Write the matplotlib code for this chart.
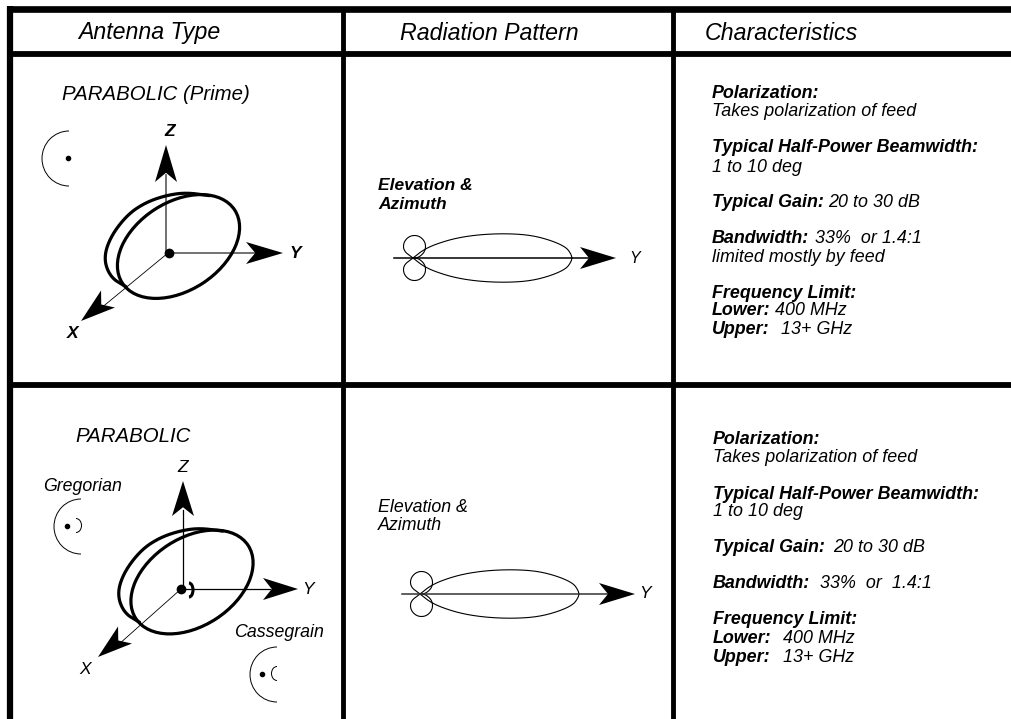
import numpy as np
import matplotlib
matplotlib.use('Agg')
import matplotlib.pyplot as plt
from matplotlib.patches import Ellipse, Arc, Polygon

plt.rcParams['font.family'] = ['Liberation Sans', 'DejaVu Sans']

# Table rules
col_lines = [342.5, 673]
row_lines = [54, 384.5]

# Header text
headers = ['Antenna Type', 'Radiation Pattern', 'Characteristics']
header_x = [78, 400, 705]

# Left column labels
row1_type = 'PARABOLIC (Prime)'
row2_type = 'PARABOLIC'

# Characteristics text: (text, bold, x, baseline y)
row1_chars = [
    ('Polarization:', True, 712, 98),
    ('Takes polarization of feed', False, 712, 116.5),
    ('Typical Half-Power Beamwidth:', True, 712, 152.5),
    ('1 to 10 deg', False, 712, 171.5),
    ('Typical Gain:', True, 712, 207),
    ('20 to 30 dB', False, 828, 207),
    ('Bandwidth:', True, 712, 243),
    ('33%  or 1.4:1', False, 815, 243),
    ('limited mostly by feed', False, 712, 261.5),
    ('Frequency Limit:', True, 712, 298),
    ('Lower:', True, 712, 315),
    ('400 MHz', False, 775, 315),
    ('Upper:', True, 712, 334),
    ('13+ GHz', False, 781, 334),
]
row2_chars = [
    ('Polarization:', True, 713, 444),
    ('Takes polarization of feed', False, 713, 462),
    ('Typical Half-Power Beamwidth:', True, 713, 499),
    ('1 to 10 deg', False, 713, 515.5),
    ('Typical Gain:', True, 713, 552),
    ('20 to 30 dB', False, 833, 552),
    ('Bandwidth:', True, 713, 588),
    ('33%  or  1.4:1', False, 820, 588),
    ('Frequency Limit:', True, 713, 624),
    ('Lower:', True, 713, 643),
    ('400 MHz', False, 783, 643),
    ('Upper:', True, 713, 662),
    ('13+ GHz', False, 783, 662),
]

# Radiation pattern outlines, offset from the lobe crossing (pixels)
main_lobe_dx = [0, 10, 23, 43, 67, 93, 117, 137, 153, 158, 159]
main_lobe_h = [0, 8, 14, 20, 23.5, 24.5, 23, 18, 11, 4, 0]
back_lobe_dx = [0, -9.5, -9.5, -3, 6, 12.5, 12.5, 6, 0]
back_lobe_h = [0, 7, 16, 22.5, 22.5, 16, 7, 0.5, 0]

# Back rim of the dish, offset from the dish centre (pixels)
rim_dx = [-53, -68, -75, -68, -51, -33, -13, 7, 30]
rim_dy = [40, 31, 12, -10, -32, -44, -51, -54, -51]

fig = plt.figure(figsize=(10.11, 7.19), dpi=100)
ax = fig.add_axes([0, 0, 1, 1])
ax.set_xlim(0, 1011)
ax.set_ylim(719, 0)
ax.axis('off')


def smooth(xs, ys, per=25):
    # Quadratic B-spline through the midpoints, ends pinned
    p = np.column_stack([xs, ys]).astype(float)
    p = np.vstack([p[0], p, p[-1]])
    out = []
    for i in range(len(p) - 2):
        a = (p[i] + p[i + 1]) / 2
        b = p[i + 1]
        c = (p[i + 1] + p[i + 2]) / 2
        for t in np.linspace(0, 1, per):
            out.append((1 - t) ** 2 * a + 2 * t * (1 - t) * b + t ** 2 * c)
    return np.array(out)


def arrow_head(tip, base, width=22, notch=0.25):
    # Filled swept-back arrow head pointing at tip
    tip = np.array(tip, float)
    base = np.array(base, float)
    d = tip - base
    n = np.array([-d[1], d[0]]) / np.hypot(*d)
    ax.add_patch(Polygon([tip, base + n * width / 2, base + d * notch, base - n * width / 2],
                         closed=True, fc='black', ec='none', zorder=5))


def dish(cx, cy):
    # Full ellipse for the front rim, read-off curve for the back rim
    ax.add_patch(Ellipse((cx, cy), 134, 88, angle=-33, fc='none', ec='black', lw=2.3, zorder=4))
    r = smooth(rim_dx, rim_dy)
    ax.plot(cx + r[:, 0], cy + r[:, 1], color='black', lw=2.3, zorder=4)


def feed(left, cy, dot_x, sub=None):
    # Small side view of reflector with feed
    ax.add_patch(Arc((left + 27, cy), 54, 55, theta1=90, theta2=270, ec='black', lw=0.7))
    ax.plot(dot_x, cy - 1, 'o', color='black', ms=3)
    if sub is not None:
        sx, t1, t2 = sub
        ax.add_patch(Arc((sx, cy - 1), 11, 14, theta1=t1, theta2=t2, ec='black', lw=0.7))


def lobe(x0, y0):
    # Main beam and back lobes of the radiation pattern
    m = smooth(main_lobe_dx, main_lobe_h)
    b = smooth(back_lobe_dx, back_lobe_h)
    for s in (-1, 1):
        ax.plot(x0 + m[:, 0], y0 + s * m[:, 1], color='black', lw=0.8)
        ax.plot(x0 + b[:, 0], y0 + s * b[:, 1], color='black', lw=0.8)


def label(x, y, s, size=12.9, bold=False, ha='left'):
    ax.text(x, y, s, fontsize=size, style='italic', weight='bold' if bold else 'normal', ha=ha, va='baseline')


# Table frame
ax.plot([10, 10], [719, 6], color='black', lw=4.5, solid_capstyle='butt')
ax.plot([7, 1011], [9, 9], color='black', lw=4.8, solid_capstyle='butt')
for y in row_lines:
    ax.plot([10, 1011], [y, y], color='black', lw=4.2, solid_capstyle='butt')
for x in col_lines:
    ax.plot([x, x], [8, 719], color='black', lw=3.5, solid_capstyle='butt')

# Headers
for t, x in zip(headers, header_x):
    label(x, 39.5, t, 16.7)

# Row 1 left
label(62, 100, row1_type, 14.7)
feed(42, 158.5, 68)
ax.plot([166, 166], [253, 175], color='#666666', lw=1.3, zorder=3)
ax.plot([168, 255], [253, 253], color='#666666', lw=1.3, zorder=3)
ax.plot([168, 100], [253, 309], color='black', lw=0.6, zorder=3)
arrow_head((166, 145), (166, 182))
arrow_head((283, 253), (246, 253))
arrow_head((81, 321), (108, 299))
ax.plot(168.5, 253, 'o', color='black', ms=6, zorder=6)
dish(178.5, 246.5)
label(170, 136, 'Z', 12.5, True, 'center')
label(295, 258, 'Y', 12.5, True, 'center')
label(73, 338, 'X', 12.5, True, 'center')

# Row 2 left
label(75, 442, row2_type, 14.7)
label(183, 472, 'Z', 12.5, False, 'center')
label(83, 491, 'Gregorian', 12.8, False, 'center')
feed(54, 526.5, 67, (76, -90, 90))
ax.plot([183, 183], [589, 510], color='black', lw=0.9, zorder=3)
ax.plot([181, 270], [589, 589], color='black', lw=0.9, zorder=3)
ax.plot([181, 118], [589, 645], color='black', lw=0.6, zorder=3)
arrow_head((183, 481), (183, 516))
arrow_head((298, 589), (263, 589))
arrow_head((98, 657), (125, 635))
ax.plot(181, 589, 'o', color='black', ms=6, zorder=6)
dish(192, 582)
ax.add_patch(Arc((189, 590), 8, 14, theta1=-90, theta2=90, ec='black', lw=2.2, zorder=6))
label(308, 594, 'Y', 12.5, False, 'center')
label(85, 674, 'X', 12.5, False, 'center')
label(279, 637, 'Cassegrain', 12.8, False, 'center')
feed(250, 674.5, 262, (277, 90, 270))

# Row 1 pattern
label(378, 190.5, 'Elevation &', 12.5, True)
label(378, 209, 'Azimuth', 12.5, True)
lobe(413, 258)
ax.plot([394, 590], [258, 258], color='black', lw=1.1)
arrow_head((616, 258), (580, 258))
label(635, 263, 'Y', 11.5, False, 'center')

# Row 2 pattern
label(378, 512, 'Elevation &', 12.8)
label(378, 530.5, 'Azimuth', 12.8)
lobe(420, 594)
ax.plot([402, 610], [594, 594], color='#333333', lw=1.1)
arrow_head((635, 594), (599, 594))
label(645, 598, 'Y', 12.5, False, 'center')

# Characteristics
for rows in (row1_chars, row2_chars):
    for t, b, x, y in rows:
        label(x, y, t, 12.9, b)

fig.savefig('out.png', dpi=100)
